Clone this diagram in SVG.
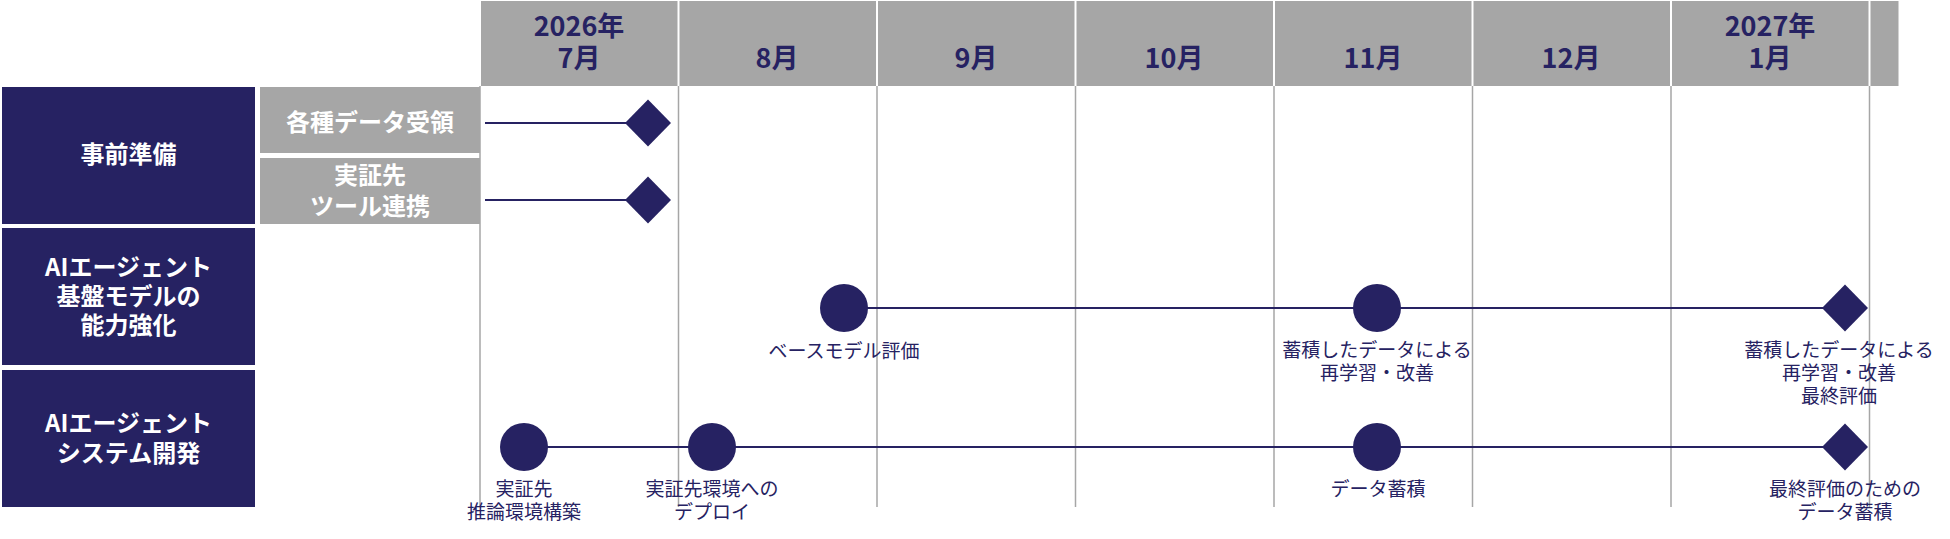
<svg xmlns="http://www.w3.org/2000/svg" width="1950" height="539" viewBox="0 0 1950 539">
<style>
.hdr{fill:#a6a6a6}
.hdrt{font-family:"Noto Sans CJK JP","Noto Sans",sans-serif;font-weight:bold;font-size:27px;fill:#262262;text-anchor:middle}
.cat{fill:#262262}
.catt{font-family:"Noto Sans CJK JP","Noto Sans",sans-serif;font-weight:bold;font-size:24px;fill:#ffffff;text-anchor:middle}
.sub{fill:#a6a6a6}
.grid{stroke:#a6a6a6;stroke-width:1.5}
.conn{stroke:#262262;stroke-width:2.2;fill:none}
.ms{fill:#262262}
.lbl{font-family:"Noto Sans CJK JP","Noto Sans",sans-serif;font-size:19px;fill:#262262;text-anchor:middle}
</style>
<defs>
<polygon id="dia" points="0,-23.5 23,0 0,23.5 -23,0"/>
</defs>
<rect width="1950" height="539" fill="#ffffff"/>

<g id="header">
<rect class="hdr" x="481" y="1" width="196.5" height="85"/>
<rect class="hdr" x="679.5" y="1" width="196.5" height="85"/>
<rect class="hdr" x="878" y="1" width="196.5" height="85"/>
<rect class="hdr" x="1076.5" y="1" width="196.5" height="85"/>
<rect class="hdr" x="1275" y="1" width="196.5" height="85"/>
<rect class="hdr" x="1473.5" y="1" width="196.5" height="85"/>
<rect class="hdr" x="1672" y="1" width="196.5" height="85"/>
<rect class="hdr" x="1870.5" y="1" width="28" height="85"/>
<text class="hdrt" x="579" y="36">2026年</text>
<text class="hdrt" x="579" y="68">7月</text>
<text class="hdrt" x="777" y="68">8月</text>
<text class="hdrt" x="976" y="68">9月</text>
<text class="hdrt" x="1174" y="68">10月</text>
<text class="hdrt" x="1373" y="68">11月</text>
<text class="hdrt" x="1571" y="68">12月</text>
<text class="hdrt" x="1770" y="36">2027年</text>
<text class="hdrt" x="1770" y="68">1月</text>
</g>

<g id="grid">
<line class="grid" x1="480" y1="86" x2="480" y2="507"/>
<line class="grid" x1="678.5" y1="86" x2="678.5" y2="507"/>
<line class="grid" x1="877" y1="86" x2="877" y2="507"/>
<line class="grid" x1="1075.5" y1="86" x2="1075.5" y2="507"/>
<line class="grid" x1="1274" y1="86" x2="1274" y2="507"/>
<line class="grid" x1="1472.5" y1="86" x2="1472.5" y2="507"/>
<line class="grid" x1="1671" y1="86" x2="1671" y2="507"/>
<line class="grid" x1="1869.5" y1="86" x2="1869.5" y2="507"/>
</g>

<g id="cat-prep">
<rect class="cat" x="2" y="87" width="253" height="137"/>
<text class="catt" x="128.5" y="163">事前準備</text>
</g>
<g id="sub-data">
<rect class="sub" x="260" y="87" width="220" height="66"/>
<text class="catt" x="370" y="131">各種データ受領</text>
</g>
<g id="sub-tool">
<rect class="sub" x="260" y="158" width="220" height="66"/>
<text class="catt" x="370" y="184">実証先</text>
<text class="catt" x="370" y="215">ツール連携</text>
</g>
<g id="cat-model">
<rect class="cat" x="2" y="228" width="253" height="137"/>
<text class="catt" x="128.5" y="276">AIエージェント</text>
<text class="catt" x="128.5" y="305">基盤モデルの</text>
<text class="catt" x="128.5" y="334">能力強化</text>
</g>
<g id="cat-system">
<rect class="cat" x="2" y="370" width="253" height="137"/>
<text class="catt" x="128.5" y="432">AIエージェント</text>
<text class="catt" x="128.5" y="462">システム開発</text>
</g>

<g id="connectors">
<line class="conn" x1="485" y1="123" x2="640" y2="123"/>
<line class="conn" x1="485" y1="200" x2="640" y2="200"/>
<line class="conn" x1="844" y1="308" x2="1840" y2="308"/>
<line class="conn" x1="524" y1="447" x2="1840" y2="447"/>
</g>

<g id="m-data">
<use href="#dia" class="ms" x="648" y="123"/>
</g>
<g id="m-tool">
<use href="#dia" class="ms" x="648" y="200"/>
</g>
<g id="m-base">
<circle class="ms" cx="844" cy="308" r="24"/>
<text class="lbl" x="844" y="358">ベースモデル評価</text>
</g>
<g id="m-retrain">
<circle class="ms" cx="1377" cy="308" r="24"/>
<text class="lbl" x="1377" y="357">蓄積したデータによる</text>
<text class="lbl" x="1377" y="380">再学習・改善</text>
</g>
<g id="m-final">
<use href="#dia" class="ms" x="1845" y="308"/>
<text class="lbl" x="1839" y="357">蓄積したデータによる</text>
<text class="lbl" x="1839" y="380">再学習・改善</text>
<text class="lbl" x="1839" y="403">最終評価</text>
</g>
<g id="m-infra">
<circle class="ms" cx="524" cy="447" r="24"/>
<text class="lbl" x="524" y="496">実証先</text>
<text class="lbl" x="524" y="519">推論環境構築</text>
</g>
<g id="m-deploy">
<circle class="ms" cx="712" cy="447" r="24"/>
<text class="lbl" x="712" y="496">実証先環境への</text>
<text class="lbl" x="712" y="519">デプロイ</text>
</g>
<g id="m-accum">
<circle class="ms" cx="1377" cy="447" r="24"/>
<text class="lbl" x="1378" y="496">データ蓄積</text>
</g>
<g id="m-finaldata">
<use href="#dia" class="ms" x="1845" y="447"/>
<text class="lbl" x="1845" y="496">最終評価のための</text>
<text class="lbl" x="1845" y="519">データ蓄積</text>
</g>
</svg>
